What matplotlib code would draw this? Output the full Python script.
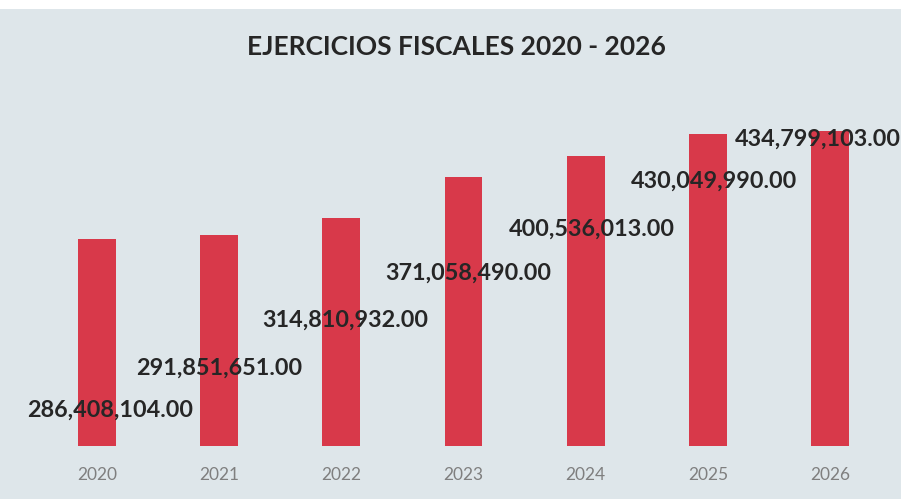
import matplotlib.pyplot as plt
from matplotlib.patches import Rectangle

# data
years = ["2020", "2021", "2022", "2023", "2024", "2025", "2026"]
amounts = [286408104.00, 291851651.00, 314810932.00, 371058490.00,
           400536013.00, 430049990.00, 434799103.00]
label_texts = ["286,408,104.00", "291,851,651.00", "314,810,932.00", "371,058,490.00",
               "400,536,013.00", "430,049,990.00", "434,799,103.00"]

# where the value labels sit (x offset in bar units, height in data units)
label_dx = [0.11, 0.0, 0.03, 0.04, 0.05, 0.05, -0.10]
label_y = [49e6, 108e6, 173e6, 238e6, 299e6, 366e6, 423e6]

bg = "#dee6ea"
bar_color = "#d8394a"
fonts = ["Lato", "DejaVu Sans"]

fig = plt.figure(figsize=(9.01, 4.99), dpi=100, facecolor=bg)
ax = fig.add_axes([36 / 901, 1 - 446 / 499, 855 / 901, (446 - 120) / 499])
ax.set_facecolor(bg)

x = list(range(len(years)))
ax.bar(x, amounts, width=0.31, color=bar_color, zorder=2)

for i, txt in enumerate(label_texts):
    ax.text(x[i] + label_dx[i], label_y[i], txt, ha="center", va="center",
            fontsize=16.8, fontweight="bold", color="#262626",
            family=fonts, zorder=3, clip_on=False)

ax.set_xlim(-0.5, len(years) - 0.5)
ax.set_ylim(0, 450e6)
ax.set_xticks(x)
ax.set_xticklabels(years, fontsize=12.5, color="#7f7f7f", family=fonts)
ax.tick_params(axis="x", length=0, pad=15)
ax.set_yticks([])
for s in ax.spines.values():
    s.set_visible(False)

fig.text(456 / 901, 1 - 47 / 499, "EJERCICIOS FISCALES 2020 - 2026", ha="center", va="center",
         fontsize=19, fontweight="bold", color="#262626", family=fonts)

# white scan margin at the top edge
fig.patches.append(Rectangle((0, 1 - 9 / 499), 1, 9 / 499, transform=fig.transFigure,
                             facecolor="white", edgecolor="none"))

fig.savefig("out.png", dpi=100, facecolor=bg)
